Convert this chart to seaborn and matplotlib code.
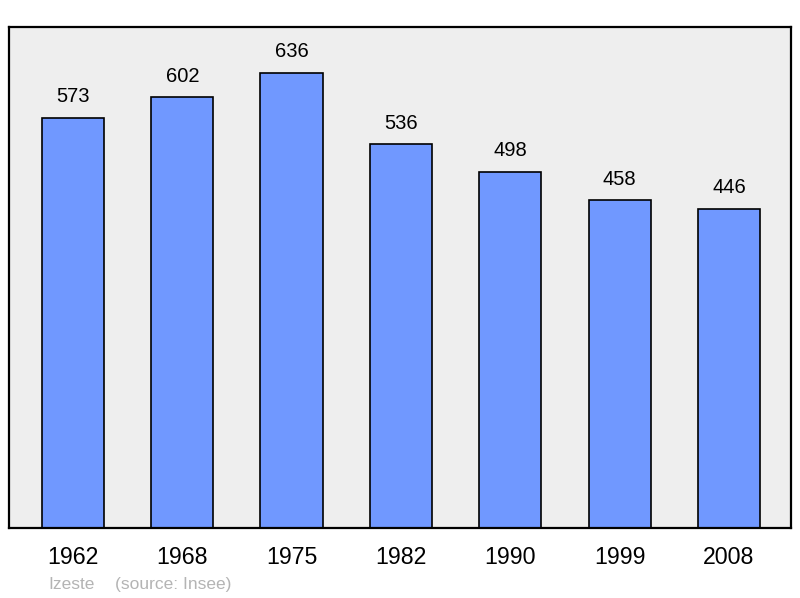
import pandas as pd
import seaborn as sns
import matplotlib.pyplot as plt

years = ["1962", "1968", "1975", "1982", "1990", "1999", "2008"]
population = [573, 602, 636, 536, 498, 458, 446]

df = pd.DataFrame({"year": years, "pop": population})

sns.set_style("white")
plt.rcParams['font.family'] = ['Liberation Sans', 'DejaVu Sans']

fig = plt.figure(figsize=(8, 5.98), dpi=100)
ax = fig.add_axes([9 / 800, 1 - 528 / 598, 782 / 800, 501 / 598])
ax.set_facecolor("#eeeeee")

sns.barplot(data=df, x="year", y="pop", color="#7098ff", saturation=1,
            width=0.57, edgecolor="black", linewidth=1.2, ax=ax)

for i, v in enumerate(population):
    ax.text(i, v + 16, str(v), ha="center", va="bottom", fontsize=14.5, color="black")

ax.set_xlim(-0.585, 6.567)
ax.set_ylim(0, 700)
ax.set_yticks([])
ax.set_xlabel("")
ax.set_ylabel("")
ax.tick_params(axis="x", length=0, labelsize=16.7, pad=13, labelcolor="black")
for s in ax.spines.values():
    s.set_linewidth(1.6)
    s.set_color("black")

# footer
fig.text(48 / 800, 1 - 589 / 598, "Izeste", color="#b4b4b4",
         fontsize=12.5, va="baseline", ha="left")
fig.text(115 / 800, 1 - 589 / 598, "(source: Insee)", color="#b4b4b4",
         fontsize=12.5, va="baseline", ha="left")

plt.savefig("out.png", dpi=100)
